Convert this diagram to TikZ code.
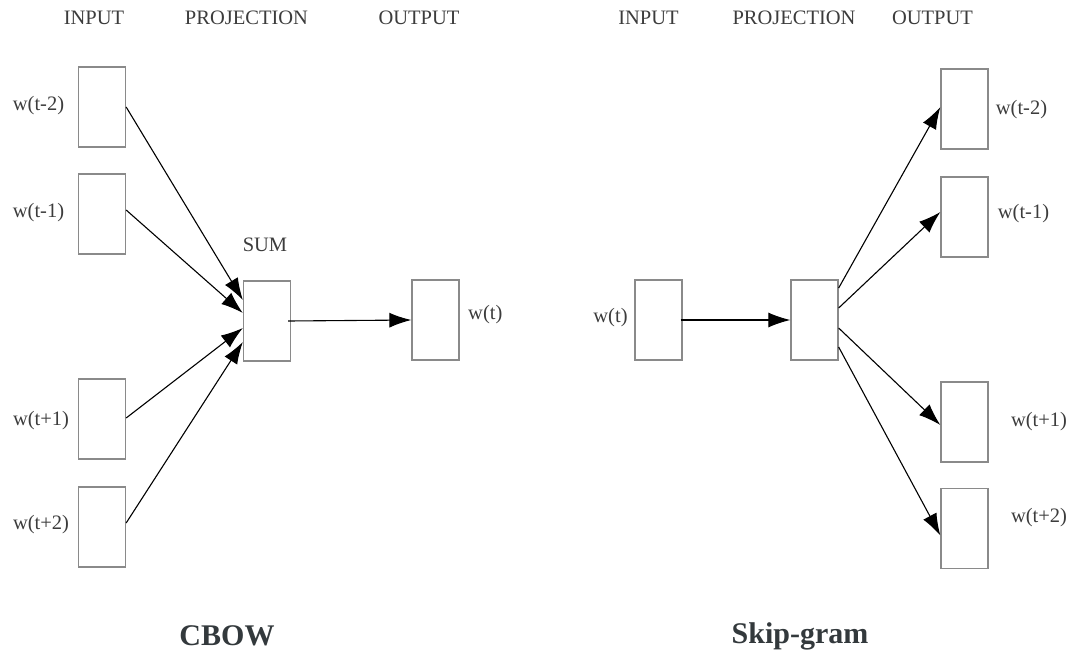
\documentclass[tikz,border=0pt]{standalone}
\usepackage{fontspec}
\setmainfont{Liberation Serif}
\usetikzlibrary{arrows.meta,calc}
\definecolor{txtgray}{HTML}{3C3C3C}
\definecolor{titlegray}{HTML}{33393C}
\definecolor{boxgray}{HTML}{8A8A8A}
\begin{document}
\begin{tikzpicture}[x=1pt,y=-1pt,
  wbox/.style={draw=boxgray,line width=1.3pt,minimum width=47pt,minimum height=80pt,inner sep=0pt,fill=white},
  lbl/.style={text=txtgray,font=\fontsize{20.5}{24}\selectfont,inner sep=0pt},
  hdr/.style={lbl,anchor=base},
  ttl/.style={text=titlegray,font=\fontsize{30}{36}\selectfont\bfseries,inner sep=0pt,anchor=base},
  conn/.style={line width=1.1pt,draw=black},
  arr/.style={conn,-{Latex[length=22pt,width=15pt]}}]
\useasboundingbox (0,0) rectangle (1073,656);

% headers
\node[hdr] (h1) at (94,24) {INPUT};
\node[hdr] (h2) at (246.5,24) {PROJECTION};
\node[hdr] (h3) at (419,24) {OUTPUT};
\node[hdr] (h4) at (648.5,24) {INPUT};
\node[hdr] (h5) at (794,24) {PROJECTION};
\node[hdr] (h6) at (932.5,24) {OUTPUT};

% CBOW
\node[wbox] (ci1) at (102,107) {};
\node[wbox] (ci2) at (102,214) {};
\node[wbox] (ci3) at (102,419) {};
\node[wbox] (ci4) at (102,527) {};
\node[wbox] (sum) at (267,321) {};
\node[wbox] (co) at (435.5,320) {};

\node[lbl] (lci1) at (38.5,106) {w(t-2)};
\node[lbl] (lci2) at (38.5,213) {w(t-1)};
\node[lbl] (lci3) at (41,421) {w(t+1)};
\node[lbl] (lci4) at (41,525) {w(t+2)};
\node[lbl] (lsum) at (265,245) {SUM};
\node[lbl,anchor=west] (lco) at (468,315) {w(t)};

\draw[arr] (ci1.east) -- ([yshift=21pt]sum.west);
\draw[arr] ([yshift=4pt]ci2.east) -- ([yshift=8pt]sum.west);
\draw[arr] ([yshift=1pt]ci3.east) -- ([yshift=-7pt]sum.west);
\draw[arr] ([yshift=4pt]ci4.east) -- ([yshift=-21pt]sum.west);
\draw[arr] ([xshift=-3pt]sum.east) -- (co.west);

\node[ttl] (tcbow) at (227,645) {CBOW};

% Skip-gram
\node[wbox] (si) at (658.5,320) {};
\node[wbox] (proj) at (814.5,320) {};
\node[wbox] (so1) at (964.5,109) {};
\node[wbox] (so2) at (964.5,217) {};
\node[wbox] (so3) at (964.5,422) {};
\node[wbox] (so4) at (964.5,528.5) {};

\node[lbl] (lsi) at (610.5,318) {w(t)};
\node[lbl] (lso1) at (1021.5,110) {w(t-2)};
\node[lbl] (lso2) at (1023.5,214) {w(t-1)};
\node[lbl] (lso3) at (1039,422) {w(t+1)};
\node[lbl] (lso4) at (1039,518) {w(t+2)};

\draw[arr] ([xshift=-2pt]si.east) -- (proj.west);
\draw[arr] ([yshift=32pt]proj.east) -- ([yshift=2pt]so1.west);
\draw[arr] ([yshift=12pt]proj.east) -- ([yshift=5pt]so2.west);
\draw[arr] ([yshift=-8pt]proj.east) -- ([yshift=-3pt]so3.west);
\draw[arr] ([yshift=-27pt]proj.east) -- ([yshift=-7pt]so4.west);

\node[ttl] (tskip) at (800,643) {Skip-gram};
\end{tikzpicture}
\end{document}
